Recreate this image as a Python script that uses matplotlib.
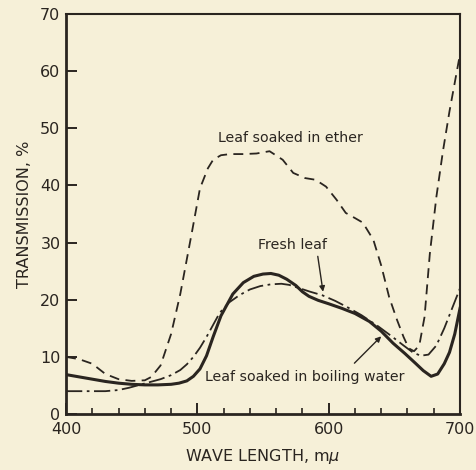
import numpy as np
import matplotlib
matplotlib.use("Agg")
import matplotlib.pyplot as plt

# Leaf soaked in ether (dashed)
ether_nm = [400, 410, 420, 430, 440, 450, 460, 465, 472, 480, 487, 496, 502, 508, 512, 518, 525, 535, 545, 555, 565, 573, 582, 590, 598, 606, 613, 620, 626, 634, 640, 646, 652, 657, 661, 665, 669, 673, 677, 682, 687, 692, 696, 700]
ether_val = [10, 9.6, 8.8, 7.0, 6.1, 5.8, 5.9, 6.5, 8.5, 14, 21, 32, 39.5, 43, 44.5, 45.3, 45.5, 45.5, 45.6, 46.0, 44.5, 42.2, 41.3, 41.0, 39.8, 37.5, 35.2, 34.3, 33.5, 30.5, 26, 20.5, 16.5, 13.5, 11.5, 11.0, 12, 17, 28, 38, 46, 53, 58, 63]

# Fresh leaf (dash-dot)
fresh_nm = [400, 410, 420, 430, 440, 448, 456, 464, 472, 480, 487, 492, 497, 502, 507, 512, 517, 524, 532, 540, 548, 556, 564, 570, 578, 586, 595, 605, 615, 625, 638, 648, 657, 664, 670, 676, 682, 688, 694, 700]
fresh_val = [4.0, 4.0, 4.0, 4.0, 4.2, 4.6, 5.1, 5.6, 6.1, 6.8, 7.7, 8.7, 10.0, 11.6, 13.5, 15.6, 17.7, 19.5, 20.8, 21.8, 22.4, 22.7, 22.8, 22.6, 22.0, 21.4, 20.8, 19.8, 18.6, 17.3, 15.3, 13.6, 12.0, 10.8, 10.2, 10.4, 12.0, 15.0, 18.5, 22.0]

# Leaf soaked in boiling water (solid)
boil_nm = [400, 410, 420, 430, 440, 450, 460, 470, 480, 486, 492, 497, 502, 507, 512, 518, 527, 535, 543, 550, 556, 562, 568, 575, 580, 585, 592, 600, 610, 620, 631, 640, 649, 658, 666, 672, 678, 683, 688, 692, 696, 700]
boil_val = [6.9, 6.5, 6.1, 5.7, 5.4, 5.2, 5.1, 5.1, 5.2, 5.4, 5.8, 6.6, 7.9, 10.2, 13.5, 17.2, 21.0, 23.0, 24.1, 24.5, 24.6, 24.3, 23.6, 22.5, 21.4, 20.6, 19.9, 19.3, 18.5, 17.6, 16.2, 14.5, 12.4, 10.6, 8.9, 7.6, 6.6, 7.0, 8.8, 10.8, 14.0, 18.5]

x_ticks = [400, 500, 600, 700]
y_ticks = [0, 10, 20, 30, 40, 50, 60, 70]

bg = "#f6f0d8"
ink = "#2a2520"

fig = plt.figure(figsize=(4.76, 4.70), dpi=100, facecolor=bg)
ax = fig.add_axes([0.1387, 0.1191, 0.8277, 0.8509])
ax.set_facecolor(bg)

ax.plot(ether_nm, ether_val, color=ink, lw=1.3, linestyle=(0, (5.5, 3.5)))
ax.plot(fresh_nm, fresh_val, color=ink, lw=1.3, linestyle=(0, (9, 2.5, 1.5, 2.5)))
ax.plot(boil_nm, boil_val, color=ink, lw=2.2, linestyle="-")

ax.set_xlim(400, 700)
ax.set_ylim(0, 70)
ax.set_xticks(x_ticks)
ax.set_xticks(np.arange(400, 701, 20), minor=True)
ax.set_yticks(y_ticks)
ax.tick_params(axis="both", which="major", direction="in", length=8, width=1.4, colors=ink, labelsize=11.5)
ax.tick_params(axis="x", which="major", pad=6)
ax.tick_params(axis="y", which="major", pad=4)
ax.tick_params(axis="x", which="minor", direction="in", length=4, width=1.2, colors=ink)
for lab in ax.get_xticklabels() + ax.get_yticklabels():
    lab.set_color(ink)

for side, w in [("left", 2.0), ("bottom", 2.0), ("top", 1.5), ("right", 1.5)]:
    ax.spines[side].set_linewidth(w)
    ax.spines[side].set_color(ink)

ax.set_xlabel(r"WAVE LENGTH, m$\mu$", fontsize=11.5, color=ink, labelpad=7)
ax.set_ylabel("TRANSMISSION, %", fontsize=11.5, color=ink, labelpad=6)

ax.text(571, 48.3, "Leaf soaked in ether", fontsize=10.2, color=ink, ha="center", va="center")
ax.text(572.5, 29.6, "Fresh leaf", fontsize=10.2, color=ink, ha="center", va="center")
ax.annotate("", xy=(595.7, 21.4), xytext=(591.7, 27.6),
            arrowprops=dict(arrowstyle="-|>", color=ink, lw=1.0, mutation_scale=8,
                            shrinkA=0, shrinkB=0))
ax.annotate("", xy=(640, 13.6), xytext=(619.6, 8.9),
            arrowprops=dict(arrowstyle="-|>", color=ink, lw=1.0, mutation_scale=8,
                            shrinkA=0, shrinkB=0))
ax.text(581.5, 6.5, "Leaf soaked in boiling water", fontsize=10.2, color=ink, ha="center", va="center")

fig.savefig("out.png", dpi=100, facecolor=bg)
